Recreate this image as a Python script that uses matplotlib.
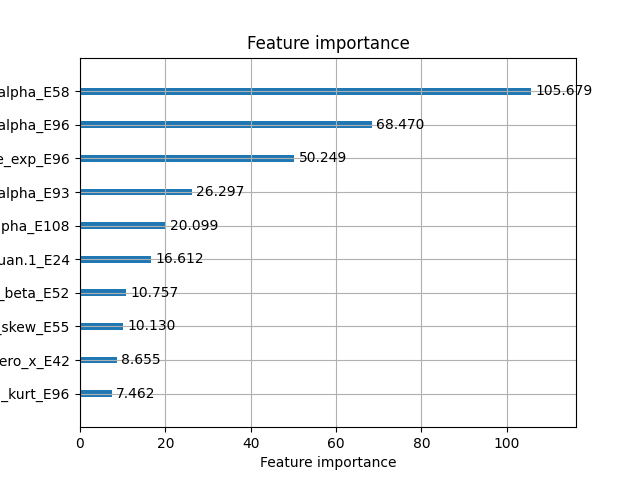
import matplotlib
matplotlib.use("Agg")
import matplotlib.pyplot as plt

# feature names (left part is clipped off the canvas in the reference)
features = [
    "ret_liq_kurt_E96",
    "ret_zero_x_E42",
    "ret_skew_E55",
    "ret_beta_E52",
    "ret_quan.1_E24",
    "ret_alpha_E108",
    "ret_alpha_E93",
    "ret_volume_exp_E96",
    "ret_alpha_E96",
    "ret_alpha_E58",
]
importance = [7.462, 8.655, 10.130, 10.757, 16.612, 20.099, 26.297, 50.249, 68.470, 105.679]

fig, ax = plt.subplots(figsize=(6.4, 4.8), dpi=100)

ylocs = list(range(len(features)))
ax.barh(ylocs, importance, align="center", height=0.2)
for x, y in zip(importance, ylocs):
    ax.text(x + 1, y, f"{x:.3f}", va="center")

ax.set_yticks(ylocs)
ax.set_yticklabels(features)
ax.set_xlim(0, max(importance) * 1.1)
ax.set_ylim(-1, len(features))
ax.set_title("Feature importance")
ax.set_xlabel("Feature importance")
ax.set_ylabel("Features")
ax.grid(True)

fig.savefig("out.png", dpi=100)
